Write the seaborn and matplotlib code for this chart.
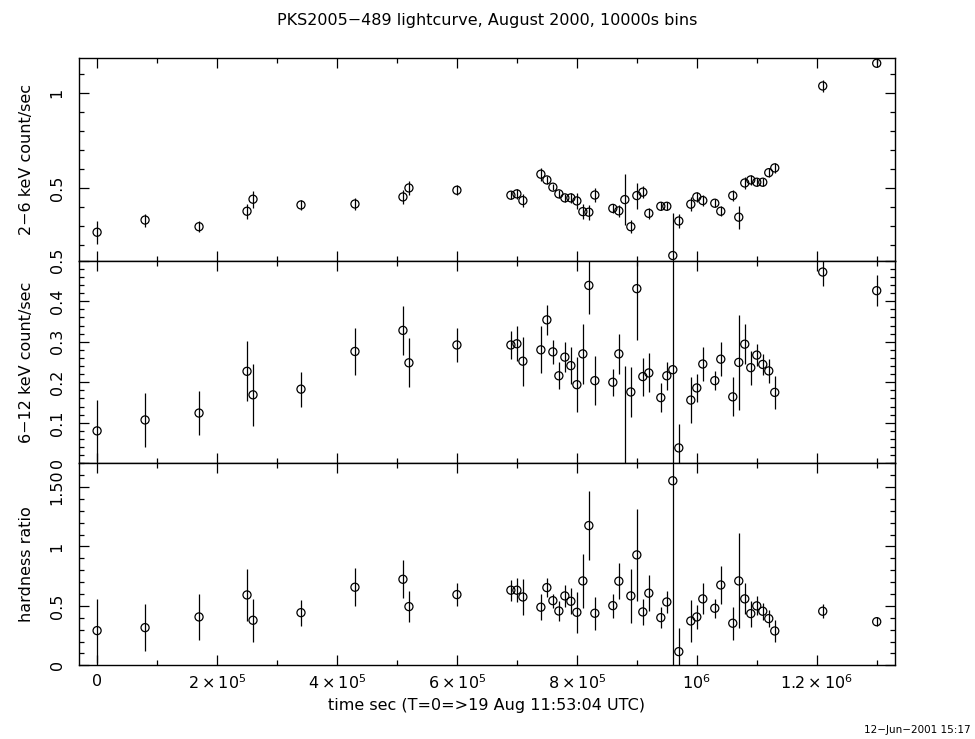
import numpy as np
import matplotlib
matplotlib.use("Agg")
import matplotlib.pyplot as plt
import seaborn as sns
from matplotlib.ticker import MultipleLocator, FixedLocator, FixedFormatter

# bin times (s since T=0)
time_s = [0, 80e3, 170e3, 250e3, 260e3, 340e3, 430e3, 510e3, 520e3, 600e3,
          690e3, 700e3, 710e3, 740e3, 750e3, 760e3, 770e3, 780e3, 790e3, 800e3,
          810e3, 820e3, 830e3, 860e3, 870e3, 880e3, 890e3, 900e3, 910e3, 920e3,
          940e3, 950e3, 960e3, 970e3, 990e3, 1000e3, 1010e3, 1030e3, 1040e3, 1060e3,
          1070e3, 1080e3, 1090e3, 1100e3, 1110e3, 1120e3, 1130e3, 1210e3, 1300e3]

# 2-6 keV rate and error
soft = [0.269, 0.333, 0.298, 0.379, 0.442, 0.412, 0.417, 0.454, 0.501, 0.489,
        0.463, 0.470, 0.435, 0.573, 0.543, 0.505, 0.470, 0.449, 0.449, 0.433,
        0.377, 0.374, 0.464, 0.394, 0.381, 0.440, 0.298, 0.461, 0.479, 0.368,
        0.405, 0.405, 0.147, 0.328, 0.416, 0.454, 0.435, 0.421, 0.379, 0.461,
        0.348, 0.527, 0.543, 0.531, 0.531, 0.581, 0.606, 1.035, 1.154]
soft_err = [0.060, 0.034, 0.030, 0.040, 0.044, 0.025, 0.033, 0.036, 0.035, 0.025,
            0.020, 0.025, 0.033, 0.035, 0.020, 0.015, 0.020, 0.020, 0.025, 0.040,
            0.040, 0.040, 0.035, 0.025, 0.030, 0.135, 0.035, 0.068, 0.030, 0.030,
            0.020, 0.020, 0.225, 0.035, 0.037, 0.024, 0.027, 0.020, 0.027, 0.030,
            0.061, 0.033, 0.025, 0.020, 0.020, 0.025, 0.027, 0.030, 0.020]

# 6-12 keV rate and error
hard = [0.080, 0.107, 0.124, 0.227, 0.169, 0.183, 0.276, 0.328, 0.248, 0.292,
        0.292, 0.295, 0.252, 0.280, 0.354, 0.275, 0.216, 0.262, 0.241, 0.194,
        0.270, 0.439, 0.204, 0.200, 0.270, -0.030, 0.176, 0.431, 0.214, 0.223,
        0.162, 0.216, 0.231, 0.038, 0.156, 0.186, 0.245, 0.204, 0.257, 0.164,
        0.249, 0.294, 0.236, 0.267, 0.244, 0.228, 0.175, 0.472, 0.426]
hard_err = [0.075, 0.067, 0.054, 0.074, 0.077, 0.043, 0.058, 0.061, 0.060, 0.043,
            0.034, 0.043, 0.060, 0.058, 0.037, 0.030, 0.033, 0.037, 0.045, 0.068,
            0.074, 0.070, 0.061, 0.033, 0.050, 0.270, 0.062, 0.127, 0.047, 0.048,
            0.035, 0.034, 0.600, 0.060, 0.057, 0.034, 0.041, 0.024, 0.042, 0.048,
            0.118, 0.050, 0.042, 0.027, 0.026, 0.029, 0.041, 0.035, 0.038]

# hardness ratio and error (880 ks bin is off scale)
ratio = [0.292, 0.317, 0.407, 0.592, 0.379, 0.443, 0.657, 0.724, 0.494, 0.595,
         0.632, 0.632, 0.575, 0.489, 0.654, 0.544, 0.457, 0.584, 0.539, 0.446,
         0.710, 1.176, 0.438, 0.502, 0.708, np.nan, 0.584, 0.929, 0.449, 0.607,
         0.401, 0.533, 1.553, 0.115, 0.373, 0.407, 0.559, 0.480, 0.676, 0.354,
         0.710, 0.559, 0.435, 0.500, 0.455, 0.393, 0.289, 0.455, 0.367]
ratio_err = [0.27, 0.20, 0.19, 0.22, 0.18, 0.11, 0.16, 0.16, 0.13, 0.10,
             0.09, 0.10, 0.15, 0.11, 0.08, 0.06, 0.08, 0.09, 0.11, 0.17,
             0.23, 0.29, 0.14, 0.10, 0.15, np.nan, 0.23, 0.39, 0.11, 0.15,
             0.09, 0.09, 1.60, 0.20, 0.18, 0.10, 0.13, 0.08, 0.16, 0.14,
             0.40, 0.13, 0.11, 0.08, 0.07, 0.07, 0.09, 0.06, 0.04]

x_ticks = [0, 2e5, 4e5, 6e5, 8e5, 1e6, 1.2e6]
x_ticklabels = ["0", r"$2\times10^5$", r"$4\times10^5$", r"$6\times10^5$",
                r"$8\times10^5$", r"$10^6$", r"$1.2\times10^6$"]

panel_ylabels = ["2\u22126 keV count/sec", "6\u221212 keV count/sec", "hardness ratio"]
panel_yticks = [[0.5, 1.0], [0, 0.1, 0.2, 0.3, 0.4, 0.5], [0, 0.5, 1.0, 1.5]]
panel_yticklabels = [["0.5", "1"], ["0", "0.1", "0.2", "0.3", "0.4", "0.5"],
                     ["0", "0.5", "1", "1.50"]]

sns.set_theme(style="ticks")
plt.rcParams["font.family"] = ["DejaVu Sans"]
plt.rcParams["mathtext.fontset"] = "dejavusans"
plt.rcParams["text.color"] = "black"
plt.rcParams["axes.labelcolor"] = "black"
plt.rcParams["xtick.color"] = "black"
plt.rcParams["ytick.color"] = "black"

fig = plt.figure(figsize=(9.75, 7.39), dpi=100)

W, H = 975.0, 739.0
left, right = 78.5 / W, 895.0 / W
edges = [58.3, 260.7, 463.3, 665.3]
ylims = [(0.12, 1.18), (0.0, 0.5), (0.0, 1.7)]
yminor = [0.1, 0.02, 0.1]
values = [(soft, soft_err), (hard, hard_err), (ratio, ratio_err)]

axes = []
for i in range(3):
    bottom = 1 - edges[i + 1] / H
    height = (edges[i + 1] - edges[i]) / H
    ax = fig.add_axes([left, bottom, right - left, height])
    y, yerr = values[i]
    ax.errorbar(time_s, y, yerr=yerr, fmt="none", ecolor="black",
                elinewidth=0.9, capsize=0, zorder=2)
    sns.scatterplot(x=time_s, y=y, ax=ax, marker="o", s=34,
                    facecolor="none", edgecolor="black", linewidth=0.9, zorder=3)
    ax.set_xlim(-31000, 1330500)
    ax.set_ylim(*ylims[i])
    ax.xaxis.set_major_locator(FixedLocator(x_ticks))
    ax.xaxis.set_minor_locator(MultipleLocator(1e5))
    ax.yaxis.set_major_locator(FixedLocator(panel_yticks[i]))
    ax.yaxis.set_major_formatter(FixedFormatter(panel_yticklabels[i]))
    ax.yaxis.set_minor_locator(MultipleLocator(yminor[i]))
    ax.tick_params(which="both", direction="in", top=True, right=True,
                   colors="black", labelsize=11.5)
    ax.tick_params(which="major", length=7.5, width=0.9)
    ax.tick_params(which="minor", length=3.8, width=0.9)
    ax.tick_params(axis="y", pad=10, labelrotation=90)
    for lab in ax.get_yticklabels():
        lab.set_va("center")
    ax.set_ylabel(panel_ylabels[i], fontsize=11.5, color="black")
    ax.yaxis.set_label_coords(-0.055, 0.5)
    for sp in ax.spines.values():
        sp.set_linewidth(1.0)
        sp.set_color("black")
    if i < 2:
        ax.tick_params(axis="x", labelbottom=False)
    else:
        ax.xaxis.set_major_formatter(FixedFormatter(x_ticklabels))
        ax.tick_params(axis="x", pad=6)
        ax.set_xlabel("time sec (T=0=>19 Aug 11:53:04 UTC)", fontsize=11.5,
                      color="black")
    axes.append(ax)

fig.text(0.5, 1 - 20 / H, "PKS2005\u2212489 lightcurve, August 2000, 10000s bins",
         ha="center", va="center", fontsize=11.5, color="black")
fig.text(0.995, 1 - 730 / H, "12\u2212Jun\u22122001 15:17",
         ha="right", va="center", fontsize=7.5, color="black")

fig.savefig("out.png", dpi=100, facecolor="white")
